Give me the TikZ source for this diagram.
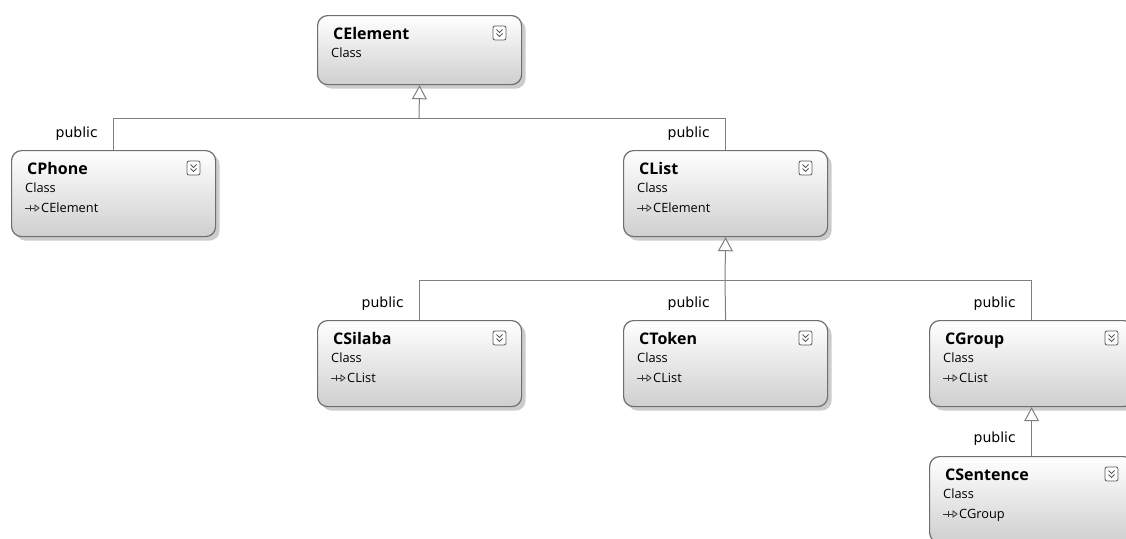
\documentclass[tikz,border=0pt]{standalone}
\usepackage{fontspec}
\setmainfont{Open Sans}
\newfontfamily\lblfont{DejaVu Sans}
\usetikzlibrary{arrows.meta,shadows}
\definecolor{boxline}{HTML}{6E6E6E}
\definecolor{boxbot}{HTML}{CFCFCF}
\definecolor{linecol}{HTML}{7F7F7F}
\definecolor{iconcol}{HTML}{5A5A5A}
\tikzset{
  clsbox/.style={draw=boxline, line width=1.2pt, rounded corners=10pt,
    top color=white, bottom color=boxbot, minimum width=204pt,
    inner sep=0pt, anchor=north west,
    drop shadow={shadow xshift=4pt, shadow yshift=-4pt, fill=black, opacity=0.2}},
  ttl/.style={anchor=base west, inner sep=0pt, font=\fontsize{16}{18}\selectfont\bfseries},
  sub/.style={anchor=base west, inner sep=0pt, font=\fontsize{12.8}{15}\selectfont},
  lbl/.style={anchor=base east, inner sep=0pt, font=\lblfont\fontsize{14}{16}\selectfont},
  conn/.style={draw=linecol, line width=1pt},
  inh/.style={-{Triangle[open, length=14pt, width=15pt, fill=white]}},
  iconst/.style={draw=iconcol, line width=0.8pt},
  glyph/.style={draw=black!80, line width=0.8pt},
}
% #1 name, #2 left, #3 top, #4 height, #5 title
\newcommand\umlclass[5]{%
  \node[clsbox, minimum height=#4pt] (#1) at (#2,#3) {};
  \node[ttl] (#1-title) at (#2+16,#3+24) {#5};
  \node[sub] (#1-kind) at (#2+14,#3+42) {Class};
  \draw[iconst, rounded corners=2pt, fill=white] (#2+176,#3+11) rectangle (#2+189,#3+25);
  \draw[iconst] (#2+179.5,#3+14.5) -- (#2+182.5,#3+17.5) -- (#2+185.5,#3+14.5);
  \draw[iconst] (#2+179.5,#3+18.5) -- (#2+182.5,#3+21.5) -- (#2+185.5,#3+18.5);
}
% #1 name, #2 left, #3 top, #4 parent
\newcommand\umlparent[4]{%
  \draw[glyph] (#2+14,#3+58) -- (#2+24,#3+58);
  \draw[glyph] (#2+19,#3+55) -- (#2+19,#3+61);
  \draw[glyph] (#2+24,#3+55) -- (#2+28,#3+58) -- (#2+24,#3+61) -- cycle;
  \node[sub] (#1-parent) at (#2+30,#3+62) {#4};
}
\begin{document}
\begin{tikzpicture}[x=1pt,y=-1pt]
\useasboundingbox (0,0) rectangle (1126,538);
\fill[white] (0,0) rectangle (1126,538);
\clip (0,0) rectangle (1126,538);

\umlclass{celement}{317}{15}{69}{CElement}
\umlclass{cphone}{11}{150}{86}{CPhone}
\umlparent{cphone}{11}{150}{CElement}
\umlclass{clist}{623}{150}{86}{CList}
\umlparent{clist}{623}{150}{CElement}
\umlclass{csilaba}{317}{320}{86}{CSilaba}
\umlparent{csilaba}{317}{320}{CList}
\umlclass{ctoken}{623}{320}{86}{CToken}
\umlparent{ctoken}{623}{320}{CList}
\umlclass{cgroup}{929}{320}{86}{CGroup}
\umlparent{cgroup}{929}{320}{CList}
\umlclass{csentence}{929}{456}{86}{CSentence}
\umlparent{csentence}{929}{456}{CGroup}

\coordinate (bus1) at (419,118);
\coordinate (bus2) at (725,280);

\draw[conn] (cphone.north) |- (bus1);
\draw[conn] (clist.north) |- (bus1);
\draw[conn,inh] (bus1) -- (celement.south);

\draw[conn] (csilaba.north) |- (bus2);
\draw[conn] (cgroup.north) |- (bus2);
\draw[conn] (ctoken.north) -- (bus2);
\draw[conn,inh] (bus2) -- (clist.south);

\draw[conn,inh] (csentence.north) -- (cgroup.south);

\node[lbl] (l-cphone) at (98,137) {public};
\node[lbl] (l-clist) at (710,137) {public};
\node[lbl] (l-csilaba) at (404,307) {public};
\node[lbl] (l-ctoken) at (710,307) {public};
\node[lbl] (l-cgroup) at (1016,307) {public};
\node[lbl] (l-csentence) at (1016,442) {public};
\end{tikzpicture}
\end{document}
